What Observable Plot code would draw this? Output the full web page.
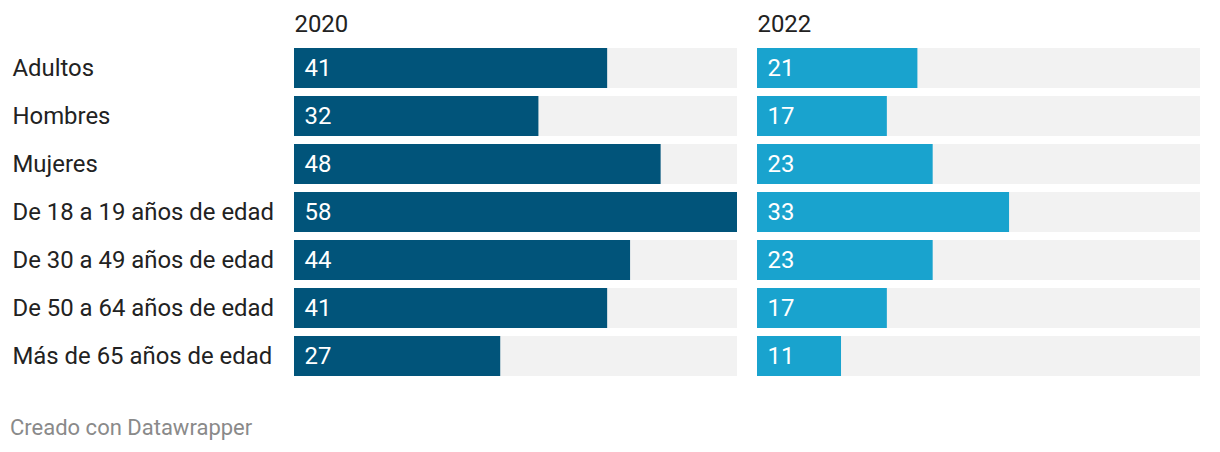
<!DOCTYPE html>
<html>
<head>
<meta charset="utf-8">
<script src="https://cdn.jsdelivr.net/npm/d3@7"></script>
<script src="https://cdn.jsdelivr.net/npm/@observablehq/plot@0.6"></script>
<style>
  html, body { margin: 0; padding: 0; background: #fff; }
  body { width: 1220px; height: 452px; overflow: hidden; font-family: Roboto, sans-serif; }
  #caption { font-family: Roboto, sans-serif; font-size: 22px; line-height: 26px; color: #8a8a8a; margin: 25px 0 0 10px; }
</style>
</head>
<body>
<div id="chart"></div>
<div id="caption">Creado con Datawrapper</div>
<script>
const categories = ["Adultos", "Hombres", "Mujeres", "De 18 a 19 años de edad", "De 30 a 49 años de edad", "De 50 a 64 años de edad", "Más de 65 años de edad"];
const years = ["2020", "2022"];
const values2020 = [41, 32, 48, 58, 44, 41, 27];
const values2022 = [21, 17, 23, 33, 23, 17, 11];
const yearColors = ["#01547a", "#19a3ce"];
const maxValue = 58;

const data = [];
categories.forEach((c, i) => {
  data.push({cat: c, year: years[0], value: values2020[i]});
  data.push({cat: c, year: years[1], value: values2022[i]});
});

const FS = 23.9;
const chart = Plot.plot({
  width: 1220,
  height: 390,
  marginLeft: 294,
  marginRight: 20,
  marginTop: 48,
  marginBottom: 14,
  style: {fontFamily: "Roboto, sans-serif", fontSize: FS + "px", background: "#fff"},
  x: {domain: [0, maxValue], axis: null},
  y: {domain: categories, paddingInner: 8/48, paddingOuter: 0, axis: null},
  fx: {domain: years, paddingInner: 0.044, paddingOuter: 0, axis: null},
  color: {domain: years, range: yearColors},
  marks: [
    Plot.barX(data, {fx: "year", y: "cat", x1: 0, x2: maxValue, fill: "#f2f2f2"}),
    Plot.barX(data, {fx: "year", y: "cat", x1: 0, x2: "value", fill: "year"}),
    Plot.text(data, {fx: "year", y: "cat", x: 0, text: d => String(d.value), textAnchor: "start", dx: 10, fill: "#fff", fontSize: FS}),
    Plot.text(years, {fx: d => d, text: d => d, frameAnchor: "top-left", lineAnchor: "middle", dy: -24, textAnchor: "start", fill: "#222", fontSize: FS}),
    Plot.text(categories, {fx: () => years[0], y: d => d, text: d => d, frameAnchor: "left", dx: -282, textAnchor: "start", fill: "#222", fontSize: FS})
  ]
});
document.getElementById("chart").appendChild(chart);
</script>
</body>
</html>
